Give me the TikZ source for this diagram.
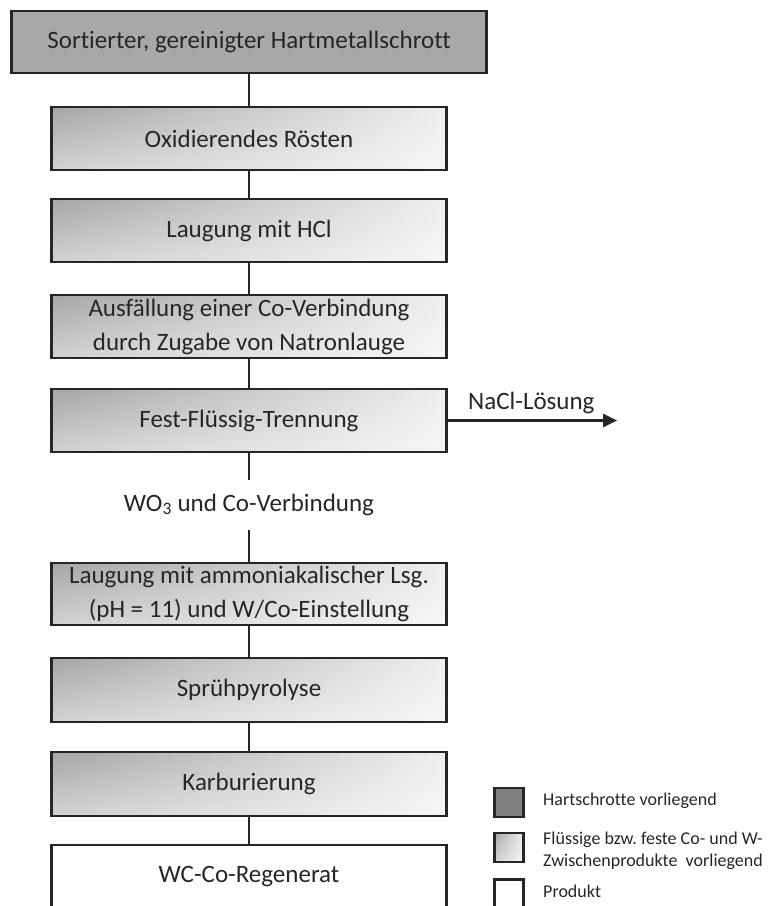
\documentclass[tikz,border=0pt]{standalone}
\usepackage{fontspec}
\setmainfont{Carlito}[Ligatures=NoCommon]
\usetikzlibrary{arrows.meta,fadings}
\definecolor{ink}{HTML}{262626}
\definecolor{hardgray}{HTML}{A7A8AA}
\definecolor{legdark}{HTML}{7F7F80}
\definecolor{gTop}{HTML}{A5A6A8}
\definecolor{gBot}{HTML}{D2D3D5}
\tikzfading[name=fadeR, left color=transparent!100, right color=transparent!18]
\tikzset{
  base/.style={draw=ink, line width=2.8pt, minimum width=395pt, align=center,
    text=ink, font=\fontsize{25}{34}\selectfont, inner sep=0pt},
  hardbox/.style={base, fill=hardgray, minimum width=475pt, minimum height=62pt},
  gradfill/.style={top color=gTop, bottom color=gBot,
    path picture={\fill[white, path fading=fadeR] (path picture bounding box.south west) rectangle (path picture bounding box.north east);}},
  gradbox/.style={base, gradfill, minimum height=63pt},
  prodbox/.style={base, fill=white, minimum height=64pt},
  conn/.style={draw=ink, line width=2.6pt},
  legsq/.style={draw=ink, line width=2.6pt, minimum size=29pt, inner sep=0pt},
  legtxt/.style={text=ink, font=\fontsize{18}{22}\selectfont, align=left, inner sep=0pt},
}
\begin{document}
\begin{tikzpicture}[x=1pt,y=-1pt]
\useasboundingbox (0,0) rectangle (768,906);
\clip (0,0) rectangle (768,906);
\node[hardbox] (b1) at (249,42) {Sortierter, gereinigter Hartmetallschrott};
\node[gradbox] (b2) at (249,138.5) {Oxidierendes Rösten};
\node[gradbox] (b3) at (249,230.5) {Laugung mit HCl};
\node[gradbox] (b4) at (249,326.5) {Ausfällung einer Co-Verbindung\\durch Zugabe von Natronlauge};
\node[gradbox] (b5) at (249,420.5) {Fest-Flüssig-Trennung};
\node[text=ink, font=\fontsize{25}{30}\selectfont, text height=31pt, text depth=19pt, inner sep=0pt] (wo) at (249,505) {WO\textsubscript{3} und Co-Verbindung};
\node[gradbox, minimum height=62pt] (b6) at (249,594) {Laugung mit ammoniakalischer Lsg.\\(pH = 11) und W/Co-Einstellung};
\node[gradbox, minimum height=64pt] (b7) at (249,690) {Sprühpyrolyse};
\node[gradbox, minimum height=64pt] (b8) at (249,784) {Karburierung};
\node[prodbox] (b9) at (249,877) {WC-Co-Regenerat};
\coordinate (out) at (617,420.5);
\draw[conn] (b1) -- (b2);
\draw[conn] (b2) -- (b3);
\draw[conn] (b3) -- (b4);
\draw[conn] (b4) -- (b5);
\draw[conn] (b5) -- (wo);
\draw[conn] (wo) -- (b6);
\draw[conn] (b6) -- (b7);
\draw[conn] (b7) -- (b8);
\draw[conn] (b8) -- (b9);
\draw[conn, -{Triangle[length=14pt,width=13pt]}] (b5.east) -- (out);
\node[text=ink, font=\fontsize{25}{30}\selectfont, anchor=base west, inner sep=0pt] (nacl) at (468,409) {NaCl-Lösung};
% legend
\node[legsq, fill=legdark] (l1) at (509,802.5) {};
\node[legsq, gradfill] (l2) at (509,847.5) {};
\node[legsq, fill=white] (l3) at (509,894) {};
\node[legtxt, anchor=base west] (t1) at (543,805) {Hartschrotte vorliegend};
\node[legtxt, anchor=west] (t2) at (543,850.5) {Flüssige bzw.\ feste Co- und W-\\Zwischenprodukte~ vorliegend};
\node[legtxt, anchor=base west] (t3) at (543,897) {Produkt};
\end{tikzpicture}
\end{document}
